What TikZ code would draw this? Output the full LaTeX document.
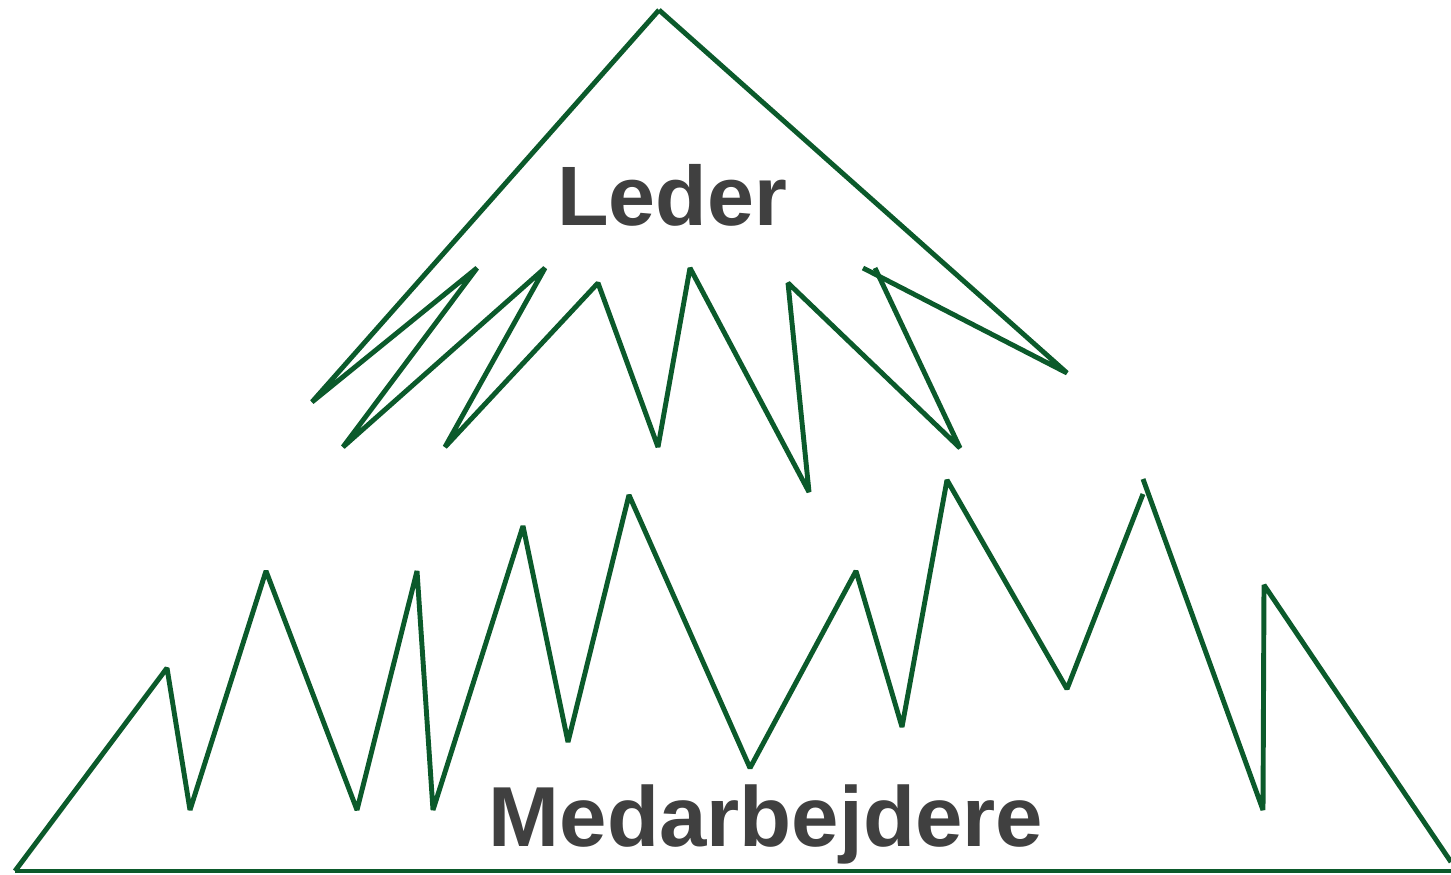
\documentclass[tikz,border=0pt]{standalone}
\usepackage{fontspec}
\setmainfont{Liberation Sans}
\usepackage{tikz}
\definecolor{cGreenD}{HTML}{0B5A2B}
\definecolor{cGrayT}{HTML}{404040}
\tikzset{
  ridge/.style = {cGreenD, line width=2.8pt, line join=bevel},
  lbl/.style   = {cGrayT, font=\bfseries, anchor=base, inner sep=0pt},
}

\begin{document}
\begin{tikzpicture}[x=0.02cm, y=-0.02cm]
  \useasboundingbox (0,0) rectangle (1451,875);
  % leader peak with its ragged lower edge
  \draw[ridge] (659,10) -- (312,402) -- (477,268) -- (343,447) -- (545,268)
    -- (445,447) -- (598,283) -- (658,447) -- (690,268) -- (809,492)
    -- (788,283) -- (960,448) -- (875,268);
  \draw[ridge] (863,268) -- (1067,373) -- (659,10);
  % staff mountain
  \draw[ridge] (15,871) -- (167,668) -- (190,810) -- (266,571) -- (357,810)
    -- (417,571) -- (433,810) -- (523,526) -- (568,742) -- (629,495)
    -- (750,768) -- (856,571) -- (902,727) -- (947,480) -- (1067,689)
    -- (1143,494);
  \draw[ridge] (1143,479) -- (1263,810) -- (1264,585) -- (1451,862);
  \draw[ridge] (15,871) -- (1451,871);
  % labels
  \node[lbl, font=\bfseries\fontsize{48}{48}\selectfont] (leder) at (672,225) {Leder};
  \node[lbl, font=\bfseries\fontsize{48.5}{48.5}\selectfont] (medarb) at (766,846) {Medarbejdere};
\end{tikzpicture}
\end{document}
